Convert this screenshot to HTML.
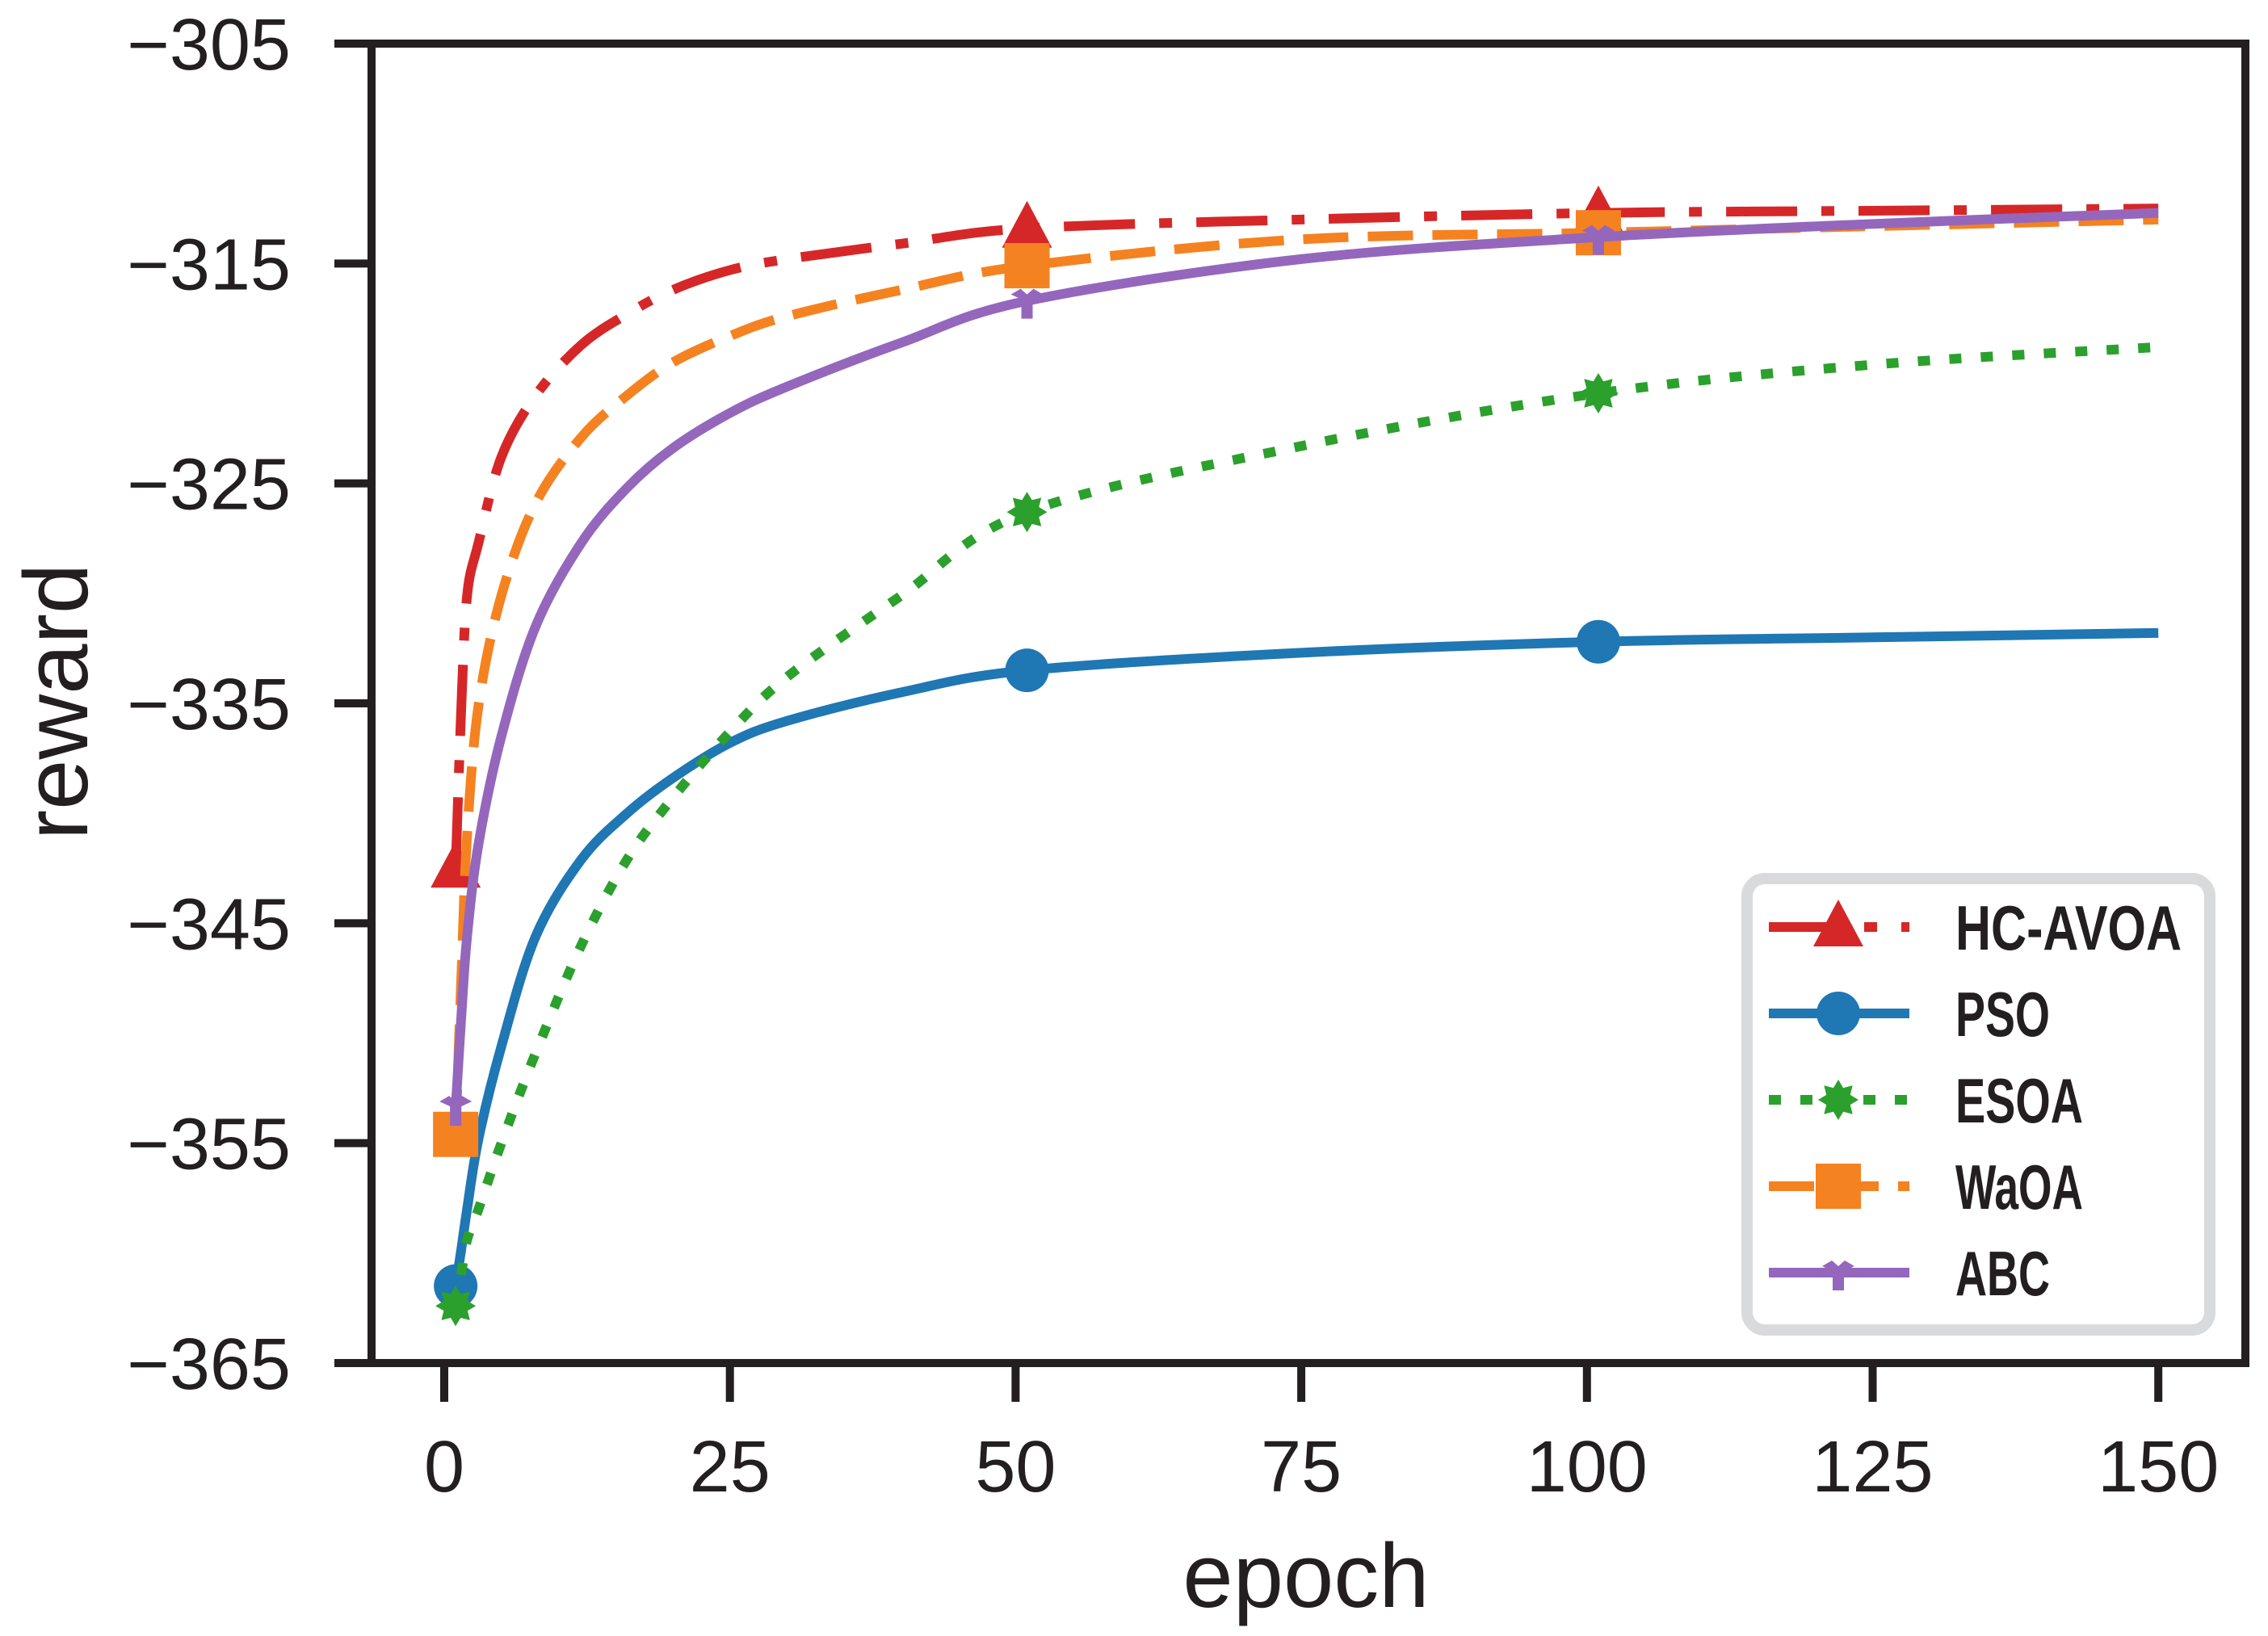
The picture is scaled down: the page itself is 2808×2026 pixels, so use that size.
<!DOCTYPE html>
<html><head><meta charset="utf-8"><style>
html,body{margin:0;padding:0;background:#fff}
svg{display:block}
text{font-family:"Liberation Sans",sans-serif;fill:#231f20}
</style></head><body>
<svg id="chart" width="2808" height="2026" viewBox="0 0 2808 2026" xmlns="http://www.w3.org/2000/svg">
<g id="plot"></g>
<g id="axes"></g>
<g id="legend"></g>
</svg>
<script>
const epochs = [1,1.5,2,3,5,8,12,16,20,25,30,40,51,75,101,125,150];
const hcavoa = [-342.5,-335.1,-330.1,-327.7,-323.8,-321.0,-318.7,-317.3,-316.2,-315.3,-314.8,-314.1,-313.4,-313.0,-312.7,-312.6,-312.5];
const pso    = [-361.5,-359.8,-358.0,-354.8,-350.6,-345.6,-342.1,-340.0,-338.4,-336.8,-335.8,-334.5,-333.5,-332.7,-332.2,-332.0,-331.8];
const esoa   = [-362.4,-360.9,-359.4,-358.0,-355.0,-350.9,-346.0,-342.1,-339.3,-336.3,-333.8,-330.1,-326.3,-323.3,-320.9,-319.6,-318.8];
const waoa   = [-354.6,-347.4,-341.0,-335.1,-330.1,-325.9,-322.9,-321.0,-319.5,-318.3,-317.4,-316.2,-315.1,-313.9,-313.6,-313.3,-313.0];
const abc    = [-353.4,-349.2,-345.6,-341.4,-336.5,-331.5,-327.7,-325.2,-323.4,-321.8,-320.6,-318.6,-316.7,-314.8,-313.8,-313.2,-312.7];
const markerEpochs = [1,51,101];
const xTicks = [0,25,50,75,100,125,150];
const yTicks = [-305,-315,-325,-335,-345,-355,-365];
const seriesNames = ["HC-AVOA","PSO","ESOA","WaOA","ABC"];

const NS="http://www.w3.org/2000/svg";
const L=460,R=2780,T=54,B=1688;
const X0=550, XPER=14.148;
function xs(e){return X0+e*XPER;}
function ys(v){return T+(-305-v)/60*(B-T);}
function mk(tag,attrs,parent){const el=document.createElementNS(NS,tag);for(const k in attrs)el.setAttribute(k,attrs[k]);parent.appendChild(el);return el;}
const plot=document.getElementById('plot'),axes=document.getElementById('axes'),leg=document.getElementById('legend');

const styles=[
 {vals:hcavoa,color:"#d62728",dash:"88 30 16 30",marker:"tri"},
 {vals:pso,color:"#1f77b4",dash:"none",marker:"circle"},
 {vals:esoa,color:"#2ca02c",dash:"15 24",marker:"star"},
 {vals:waoa,color:"#f58220",dash:"56 24",marker:"square"},
 {vals:abc,color:"#9467bd",dash:"none",marker:"tick"}
];
function interp(vals,e){for(let i=0;i<epochs.length-1;i++){if(e>=epochs[i]&&e<=epochs[i+1]){const t=(e-epochs[i])/(epochs[i+1]-epochs[i]);return vals[i]+t*(vals[i+1]-vals[i]);}}return vals[vals.length-1];}
function smoothPath(vals){
 const p=epochs.map((e,i)=>[xs(e),ys(vals[i])]);
 let d="M"+p[0][0]+","+p[0][1];
 for(let i=0;i<p.length-1;i++){
  const p0=p[i-1]||p[i],p1=p[i],p2=p[i+1],p3=p[i+2]||p2;
  const c1=[p1[0]+(p2[0]-p0[0])/6,p1[1]+(p2[1]-p0[1])/6];
  const c2=[p2[0]-(p3[0]-p1[0])/6,p2[1]-(p3[1]-p1[1])/6];
  d+=" C"+c1[0]+","+c1[1]+" "+c2[0]+","+c2[1]+" "+p2[0]+","+p2[1];
 }
 return d;
}
function drawMarker(type,cx,cy,color,g){
 let el;
 if(type==="tri"){el=mk('polygon',{points:`${cx},${cy-34} ${cx-31},${cy+24} ${cx+31},${cy+24}`,fill:color},g);}
 else if(type==="circle"){el=mk('circle',{cx:cx,cy:cy,r:27,fill:color},g);}
 else if(type==="square"){el=mk('rect',{x:cx-28,y:cy-28,width:56,height:56,fill:color},g);}
 else if(type==="star"){let pts=[];for(let k=0;k<16;k++){const r=k%2?16:25;const a=-Math.PI/2+k*Math.PI/8;pts.push((cx+r*Math.cos(a)).toFixed(1)+","+(cy+r*Math.sin(a)).toFixed(1));}el=mk('polygon',{points:pts.join(" "),fill:color},g);}
 else {el=mk('path',{d:`M${cx-20},${cy-8} L${cx-8},${cy-15} L${cx},${cy-8} L${cx+8},${cy-15} L${cx+20},${cy-8} L${cx+7},${cy-2} L${cx+7},${cy+22} L${cx-7},${cy+22} L${cx-7},${cy-2} Z`,fill:color},g);}
 return el;
}
styles.forEach((s,i)=>{
 const g=mk('g',{},plot);
 
 
 const path=mk('path',{d:smoothPath(s.vals),fill:"none",stroke:s.color,"stroke-width":12,"stroke-dasharray":s.dash},g);
 
 
 markerEpochs.forEach(e=>{
  const m=drawMarker(s.marker,xs(e),ys(interp(s.vals,e)),s.color,g);
  
  
 });
});

const frame=mk('rect',{x:L,y:T,width:R-L,height:B-T,fill:"none",stroke:"#231f20","stroke-width":10},axes);


yTicks.forEach(v=>{
 const y=ys(v);
 const t=mk('line',{x1:L-46,x2:L,y1:y,y2:y,stroke:"#231f20","stroke-width":10},axes);
 
 
 const tx=mk('text',{x:360,y:y+32,"text-anchor":"end","font-size":90},axes);
 tx.textContent="\u2212"+Math.abs(v);
 
 
});
xTicks.forEach(e=>{
 const x=xs(e);
 const t=mk('line',{x1:x,x2:x,y1:B,y2:B+48,stroke:"#231f20","stroke-width":10},axes);
 
 
 const tx=mk('text',{x:x,y:1847,"text-anchor":"middle","font-size":90},axes);
 tx.textContent=String(e);
 
 
});
const xl=mk('text',{x:1617,y:1990,"text-anchor":"middle","font-size":112},axes);
xl.textContent="epoch";


const yl=mk('text',{x:0,y:0,"text-anchor":"middle","font-size":112,transform:"translate(108,869) rotate(-90)"},axes);
yl.textContent="reward";



const box=mk('rect',{x:2163,y:1088,width:573,height:559,rx:22,fill:"#fff",stroke:"#d9dadb","stroke-width":14},leg);


const legY=[1148,1255,1362,1469,1576];
const legW=[280,117,158,158,117];
styles.forEach((s,i)=>{
 const g=mk('g',{},leg);
 
 
 const y=legY[i];
 mk('line',{x1:2190,x2:2364,y1:y,y2:y,stroke:s.color,"stroke-width":12,"stroke-dasharray":s.dash},g);
 drawMarker(s.marker,2276,y,s.color,g);
 const tx=mk('text',{x:2421,y:y+28,"font-size":78,"font-weight":"bold","font-family":"Liberation Mono, monospace",textLength:legW[i],lengthAdjust:"spacingAndGlyphs"},g);
 tx.textContent=seriesNames[i];
 
 
});
</script>
</body></html>
